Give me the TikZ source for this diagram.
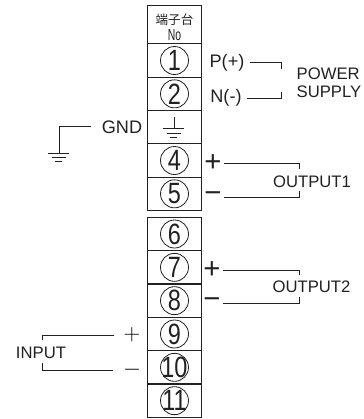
\documentclass[tikz,border=0pt]{standalone}
\usepackage{fontspec}
\setmainfont{Liberation Sans}
\newfontfamily\cjk{Noto Sans CJK JP}
\newfontfamily\narrowfont[FakeStretch=0.65]{Liberation Sans}
\newfontfamily\digitfont[FakeStretch=0.8]{Liberation Sans}
\usetikzlibrary{positioning}
\definecolor{ink}{gray}{0.13}
\tikzset{term node/.style={rectangle,draw=ink,text=ink,line width=.8pt,outer sep=0pt,inner sep=0pt,minimum width=40pt,minimum height=25pt,font=\digitfont\fontsize{22}{22}\selectfont},
  head node/.style={term node,minimum height=29pt,align=center},
  ring node/.style={circle,draw=ink,line width=.6pt,minimum size=21pt,inner sep=0pt},
  big label/.style={text=ink,inner sep=4pt,font=\fontsize{13.6}{14}\selectfont},
  small label/.style={text=ink,inner sep=0pt,align=left,font=\fontsize{12.5}{13.5}\selectfont},
  sign/.style={text=ink,inner sep=2pt,font=\fontsize{22}{22}\selectfont},
  thin sign/.style={text=black,inner sep=7pt,font=\fontsize{16}{16}\selectfont},
  wire/.style={draw=ink,line width=.7pt},
  earth/.pic={\draw[wire] (-10.5,0) -- (10.5,0) (-7,4.5) -- (7,4.5) (-3.5,8.5) -- (3.5,8.5);}}

\begin{document}
\begin{tikzpicture}[x=.75pt,y=-.75pt]
      \useasboundingbox (0,0) rectangle (364,419);

      % upper block
      \node[head node] (h) at (174.5,24.5) {};
      \node[text=ink,inner sep=0pt,font=\cjk\fontsize{9.4}{11}\selectfont] (hj) at (174.5,19.5) {端子台};
      \node[text=ink,inner sep=0pt,font=\narrowfont\fontsize{12}{12}\selectfont] (hn) at (174.5,35) {No};
      \node[term node] (t1) [below = 0pt of h] {1};
      \node[term node] (t2) [below = 0pt of t1] {2};
      \node[term node] (t3) [below = 0pt of t2] {};
      \node[term node] (t4) [below = 0pt of t3] {4};
      \node[term node] (t5) [below = 0pt of t4] {5};

      % lower block
      \node[term node] (t6) at (174.5,234) {6};
      \node[term node] (t7) [below = 0pt of t6] {7};
      \node[term node] (t8) [below = 0pt of t7] {8};
      \node[term node] (t9) [below = 0pt of t8] {9};
      \node[term node] (t10) [below = 0pt of t9] {10};
      \node[term node] (t11) [below = 0pt of t10] {11};

      \foreach \n in {1,2,4,5,6,7,8,9,10,11}
        \node[ring node] (r\n) at (t\n) {};

      % ground of terminal 3
      \coordinate (g3) at (174,117);
      \coordinate (g3b) at (174,128.5);
      \draw[wire] (g3) -- (g3b);
      \pic at (g3b) {earth};

      % ground on the left
      \node[big label] (gnd) at (122,127) {GND};
      \coordinate (gndb) at (59,153);
      \draw[wire] (gnd.west) ++(-5,-1) -| (gndb);
      \pic at (gndb) {earth};

      % power supply
      \node[big label] (p) at (227,62.5) {P(+)};
      \node[big label] (n) at (226,98) {N(-)};
      \node[small label] (pw) at (329,83) {POWER\\SUPPLY};
      \coordinate (pa) at (281,69);
      \coordinate (na) at (281,92);
      \draw[wire] (p.east) -| (pa);
      \draw[wire] (n.east) -| (na);

      % output 1
      \node[sign] (op1) at (213,163.5) {+};
      \node[sign] (om1) at (213,197) {−};
      \node[small label] (o1) at (312,182) {OUTPUT1};
      \coordinate (o1a) at (299,169);
      \coordinate (o1b) at (299,191);
      \draw[wire] (op1.east) -| (o1a);
      \draw[wire] (om1.east) -| (o1b);

      % output 2
      \node[sign] (op2) at (212,270) {+};
      \node[sign] (om2) at (212,303.5) {−};
      \node[small label] (o2) at (311.5,287) {OUTPUT2};
      \coordinate (o2a) at (299,275);
      \coordinate (o2b) at (299,297);
      \draw[wire] (op2.east) -| (o2a);
      \draw[wire] (om2.east) -| (o2b);

      % input
      \node[thin sign] (ip) at (132,335) {$+$};
      \node[thin sign] (im) at (132,370) {$-$};
      \node[small label] (in) at (41,353) {INPUT};
      \coordinate (ia) at (42,340);
      \coordinate (ib) at (42,363);
      \draw[wire] (ip.west) -| (ia);
      \draw[wire] (im.west) -| (ib);

    \end{tikzpicture}
\end{document}
